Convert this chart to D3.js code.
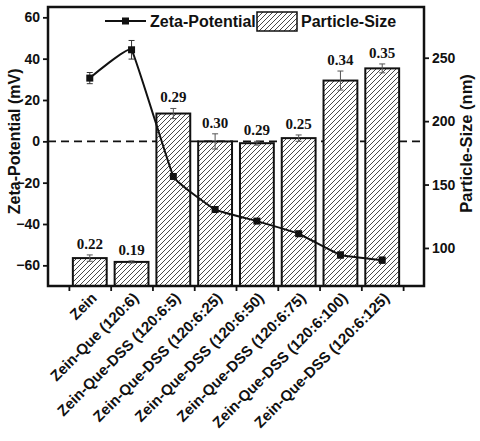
<!DOCTYPE html>
<html>
<head>
<meta charset="utf-8">
<script src="https://cdn.jsdelivr.net/npm/d3@7"></script>
<style>
  body { margin: 0; background: #fff; }
  .axis text { font-family: "Liberation Sans", Arial, sans-serif; font-weight: bold; font-size: 14px; fill: #111; }
  .axis line { stroke: #111; stroke-width: 1.8px; }
  .axis path { display: none; }
</style>
</head>
<body>
<div id="chart"></div>
<script>
///////////////////////////////////////////////////////////////////////////
/////////////////////////////// Data //////////////////////////////////////
///////////////////////////////////////////////////////////////////////////

var samples = ["Zein", "Zein-Que (120:6)", "Zein-Que-DSS (120:6:5)", "Zein-Que-DSS (120:6:25)",
               "Zein-Que-DSS (120:6:50)", "Zein-Que-DSS (120:6:75)", "Zein-Que-DSS (120:6:100)",
               "Zein-Que-DSS (120:6:125)"];
var zetaValues = [30.6, 44.3, -17, -33, -38.6, -44.7, -55, -57.5];
var zetaErrors = [2.7, 4.5, 1, 1, 1, 1, 1.5, 1.5];
var sizeValues = [92, 89, 206, 184, 182.6, 186.6, 232, 241.6];
var sizeErrors = [2.5, 0.8, 4, 6, 1.5, 2.5, 7.5, 3.5];
var pdiLabels = ["0.22", "0.19", "0.29", "0.30", "0.29", "0.25", "0.34", "0.35"];
var leftTicks = [-60, -40, -20, 0, 20, 40, 60];
var rightTicks = [100, 150, 200, 250];

var data = samples.map(function(s, i) {
    return { name: s, pos: i + 1, zeta: zetaValues[i], zetaErr: zetaErrors[i],
             size: sizeValues[i], sizeErr: sizeErrors[i], pdi: pdiLabels[i] };
});

///////////////////////////////////////////////////////////////////////////
//////////////////// Set up svg and scales ////////////////////////////////
///////////////////////////////////////////////////////////////////////////

var width = 480, height = 441;
var plot = { left: 48, right: 424, top: 7, bottom: 286 };

var svg = d3.select("#chart").append("svg")
    .attr("width", width)
    .attr("height", height);

var defs = svg.append("defs");

//Hatch pattern for the bars
var hatch = defs.append("pattern")
    .attr("id", "hatch")
    .attr("patternUnits", "userSpaceOnUse")
    .attr("width", 5).attr("height", 5);
hatch.append("rect").attr("width", 5).attr("height", 5).attr("fill", "#fff");
hatch.append("path")
    .attr("d", "M-1,1 l2,-2 M0,5 l5,-5 M4,6 l2,-2")
    .attr("stroke", "#333")
    .attr("stroke-width", 0.9);

var xScale = d3.scaleLinear().domain([0, 9]).range([plot.left, plot.right]);
var yLeft = d3.scaleLinear().domain([-70, 65]).range([plot.bottom, plot.top]);
var yRight = d3.scaleLinear().domain([70, 290]).range([plot.bottom, plot.top]);

var barWidth = (xScale(1) - xScale(0)) * 0.81;

///////////////////////////////////////////////////////////////////////////
//////////////////////////// Zero line ////////////////////////////////////
///////////////////////////////////////////////////////////////////////////

svg.append("line")
    .attr("x1", plot.left).attr("x2", plot.right)
    .attr("y1", yLeft(0)).attr("y2", yLeft(0))
    .attr("stroke", "#111")
    .attr("stroke-width", 1.6)
    .attr("stroke-dasharray", "8,5");

///////////////////////////////////////////////////////////////////////////
//////////////////////////// Draw bars ////////////////////////////////////
///////////////////////////////////////////////////////////////////////////

svg.append("g").selectAll("rect")
    .data(data)
    .enter().append("rect")
    .attr("x", function(d) { return xScale(d.pos) - barWidth / 2; })
    .attr("y", function(d) { return yRight(d.size); })
    .attr("width", barWidth)
    .attr("height", function(d) { return plot.bottom - yRight(d.size); })
    .attr("fill", "url(#hatch)")
    .attr("stroke", "#111")
    .attr("stroke-width", 2);

//Bar error bars
var barErr = svg.append("g").attr("stroke", "#555").attr("stroke-width", 1);
data.forEach(function(d) {
    var cx = xScale(d.pos),
        y1 = yRight(d.size + d.sizeErr),
        y2 = yRight(d.size - d.sizeErr);
    barErr.append("line").attr("x1", cx).attr("x2", cx).attr("y1", y1).attr("y2", y2);
    barErr.append("line").attr("x1", cx - 3).attr("x2", cx + 3).attr("y1", y1).attr("y2", y1);
    barErr.append("line").attr("x1", cx - 3).attr("x2", cx + 3).attr("y1", y2).attr("y2", y2);
});

//PDI labels
svg.append("g").selectAll("text")
    .data(data)
    .enter().append("text")
    .attr("x", function(d) { return xScale(d.pos); })
    .attr("y", function(d) { return yRight(d.size + d.sizeErr) - 6; })
    .attr("text-anchor", "middle")
    .style("font-family", "'Liberation Serif', 'Times New Roman', serif")
    .style("font-weight", "bold")
    .style("font-size", "15px")
    .style("fill", "#111")
    .text(function(d) { return d.pdi; });

///////////////////////////////////////////////////////////////////////////
//////////////////////// Zeta-potential line //////////////////////////////
///////////////////////////////////////////////////////////////////////////

var line = d3.line()
    .x(function(d) { return xScale(d.pos); })
    .y(function(d) { return yLeft(d.zeta); })
    .curve(d3.curveCardinal.tension(0.75));

svg.append("path")
    .datum(data)
    .attr("d", line)
    .attr("fill", "none")
    .attr("stroke", "#111")
    .attr("stroke-width", 2);

var zetaErr = svg.append("g").attr("stroke", "#333").attr("stroke-width", 1);
data.forEach(function(d) {
    var cx = xScale(d.pos),
        y1 = yLeft(d.zeta + d.zetaErr),
        y2 = yLeft(d.zeta - d.zetaErr);
    zetaErr.append("line").attr("x1", cx).attr("x2", cx).attr("y1", y1).attr("y2", y2);
    zetaErr.append("line").attr("x1", cx - 3).attr("x2", cx + 3).attr("y1", y1).attr("y2", y1);
    zetaErr.append("line").attr("x1", cx - 3).attr("x2", cx + 3).attr("y1", y2).attr("y2", y2);
});

svg.append("g").selectAll("rect")
    .data(data)
    .enter().append("rect")
    .attr("x", function(d) { return xScale(d.pos) - 3.5; })
    .attr("y", function(d) { return yLeft(d.zeta) - 3.5; })
    .attr("width", 7).attr("height", 7)
    .attr("fill", "#111");

///////////////////////////////////////////////////////////////////////////
//////////////////////////// Axes /////////////////////////////////////////
///////////////////////////////////////////////////////////////////////////

svg.append("g")
    .attr("class", "axis")
    .attr("transform", "translate(" + plot.left + ",0)")
    .call(d3.axisLeft(yLeft).tickValues(leftTicks).tickSize(5).tickPadding(3));

svg.append("g")
    .attr("class", "axis")
    .attr("transform", "translate(" + plot.right + ",0)")
    .call(d3.axisRight(yRight).tickValues(rightTicks).tickSize(5).tickPadding(3));

svg.append("g")
    .attr("class", "axis")
    .attr("transform", "translate(0," + plot.bottom + ")")
    .call(d3.axisBottom(xScale).tickValues(d3.range(0.5, 9, 1)).tickSize(5).tickFormat(""));

//Category labels
svg.append("g").selectAll("text")
    .data(data)
    .enter().append("text")
    .attr("transform", function(d) { return "translate(" + (xScale(d.pos) + 8) + "," + (plot.bottom + 13) + ") rotate(-45)"; })
    .attr("text-anchor", "end")
    .style("font-family", "'Liberation Sans', Arial, sans-serif")
    .style("font-weight", "bold")
    .style("font-size", "15px")
    .style("fill", "#111")
    .text(function(d) { return d.name; });

//Frame
svg.append("rect")
    .attr("x", plot.left).attr("y", plot.top)
    .attr("width", plot.right - plot.left)
    .attr("height", plot.bottom - plot.top)
    .attr("fill", "none")
    .attr("stroke", "#111")
    .attr("stroke-width", 2.5);

//Axis titles
svg.append("text")
    .attr("transform", "translate(20," + yLeft(0) + ") rotate(-90)")
    .attr("text-anchor", "middle")
    .style("font-family", "'Liberation Sans', Arial, sans-serif")
    .style("font-weight", "bold")
    .style("font-size", "16px")
    .style("fill", "#111")
    .text("Zeta-Potential (mV)");

svg.append("text")
    .attr("transform", "translate(472," + yLeft(-1) + ") rotate(-90)")
    .attr("text-anchor", "middle")
    .style("font-family", "'Liberation Sans', Arial, sans-serif")
    .style("font-weight", "bold")
    .style("font-size", "16.5px")
    .style("fill", "#111")
    .text("Particle-Size (nm)");

///////////////////////////////////////////////////////////////////////////
//////////////////////////// Legend ///////////////////////////////////////
///////////////////////////////////////////////////////////////////////////

var legend = svg.append("g").attr("class", "legend");

legend.append("line")
    .attr("x1", 105).attr("x2", 146)
    .attr("y1", 21).attr("y2", 21)
    .attr("stroke", "#111").attr("stroke-width", 2);
legend.append("rect")
    .attr("x", 122).attr("y", 17.5)
    .attr("width", 7).attr("height", 7)
    .attr("fill", "#111");
legend.append("text")
    .attr("x", 150).attr("y", 27)
    .style("font-family", "'Liberation Sans', Arial, sans-serif")
    .style("font-weight", "bold")
    .style("font-size", "16px")
    .style("fill", "#111")
    .text("Zeta-Potential");

legend.append("rect")
    .attr("x", 257).attr("y", 12)
    .attr("width", 40).attr("height", 19)
    .attr("fill", "url(#hatch)")
    .attr("stroke", "#111").attr("stroke-width", 1.5);
legend.append("text")
    .attr("x", 301).attr("y", 27)
    .style("font-family", "'Liberation Sans', Arial, sans-serif")
    .style("font-weight", "bold")
    .style("font-size", "16px")
    .style("fill", "#111")
    .text("Particle-Size");
</script>
</body>
</html>
